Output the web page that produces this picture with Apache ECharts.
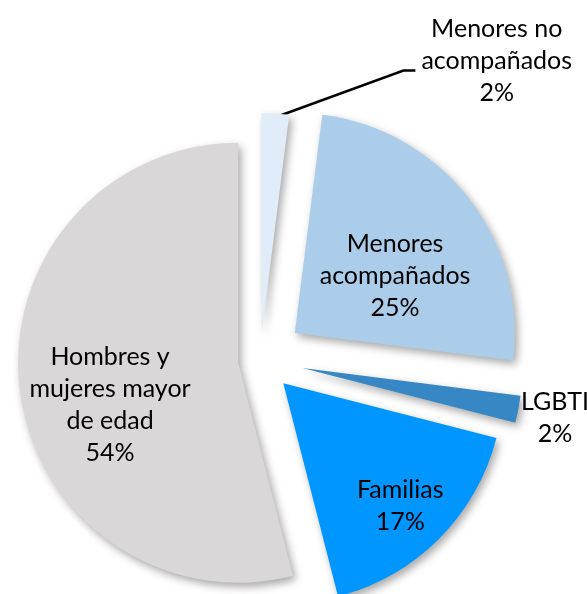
<!DOCTYPE html>
<html>
<head>
<meta charset="utf-8">
<style>
  html, body { margin: 0; padding: 0; background: #fff; }
  #chart { width: 587px; height: 594px; }
</style>
<script src="https://cdn.jsdelivr.net/npm/echarts@6/dist/echarts.min.js"></script>
</head>
<body>
<div id="chart"></div>
<script>
var categories = ["Menores no acompañados", "Menores acompañados", "LGBTI", "Familias", "Hombres y mujeres mayor de edad"];
var labelLines = ["Menores no\nacompañados", "Menores\nacompañados", "LGBTI", "Familias", "Hombres y\nmujeres mayor\nde edad"];
var values = [2, 25, 2, 17, 54];

// look
var colors = ["#e0ecf8", "#abcdea", "#3787c5", "#0096ff", "#d9d7d8"];
var explode = [27, 44, 43, 33, 22];
var outside = [true, false, true, false, false];
var nudge = [[203, -33], [11, 12], [0, 5], [37, 43], [-16, 28]];

var chart = echarts.init(document.getElementById("chart"));

// one pie per slice so each slice can be pulled out by its own amount
var series = values.map(function (v0, k) {
  return {
    type: "pie",
    center: [260, 360],
    radius: 220,
    startAngle: 90,
    clockwise: true,
    silent: true,
    selectedMode: "single",
    selectedOffset: explode[k],
    avoidLabelOverlap: false,
    label: {
      show: true,
      position: outside[k] ? "outside" : "inside",
      color: "#000",
      fontFamily: "Lato",
      fontSize: 25,
      lineHeight: 32,
      formatter: function (p) {
        return labelLines[p.dataIndex] + "\n" + Math.round(p.percent) + "%";
      }
    },
    labelLine: {
      show: k === 0,
      length: 20,
      length2: 12,
      lineStyle: { color: "#000", width: 2.5 }
    },
    labelLayout: function (p) {
      var d = nudge[p.dataIndex];
      var out = { dx: d[0], dy: d[1], align: "center" };
      if (p.dataIndex === 0 && p.labelLinePoints) {
        // leader from the slice tip to the left side of the moved label
        var r = p.labelRect;
        var left = r.x + d[0] - r.width / 2 - 6;
        var mid = r.y + r.height / 2 + d[1] + 10;
        var start = p.labelLinePoints[0];
        out.labelLinePoints = [[start[0] + 2, start[1] + 3], [left - 12, mid], [left, mid]];
      }
      return out;
    },
    data: values.map(function (v, j) {
      var mine = j === k;
      return {
        name: categories[j],
        value: v,
        selected: mine,
        itemStyle: mine ? {
          color: colors[j],
          shadowBlur: 8,
          shadowOffsetX: 3,
          shadowOffsetY: 4,
          shadowColor: "rgba(0,0,0,0.35)"
        } : { color: "rgba(0,0,0,0)" },
        label: { show: mine },
        labelLine: { show: mine && k === 0 }
      };
    })
  };
});

chart.setOption({
  animation: false,
  series: series
});
</script>
</body>
</html>
